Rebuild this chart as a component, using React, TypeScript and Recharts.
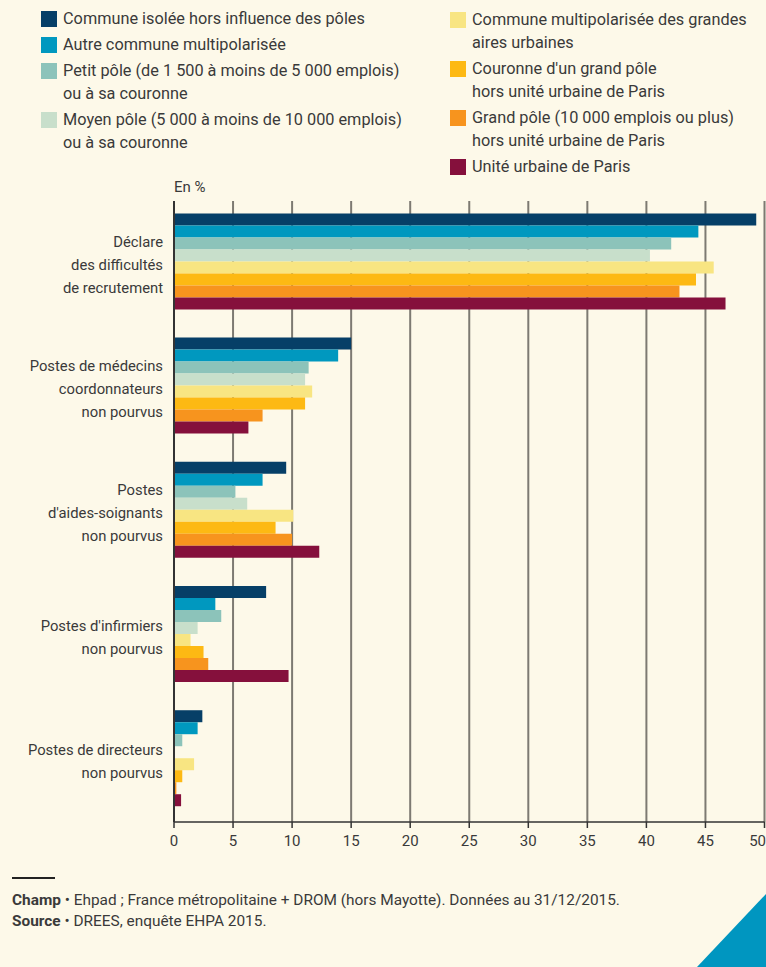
import { BarChart, Bar, XAxis, YAxis, CartesianGrid } from 'recharts'

const categories = [
  'Déclare\ndes difficultés\nde recrutement',
  'Postes de médecins\ncoordonnateurs\nnon pourvus',
  'Postes\nd\'aides-soignants\nnon pourvus',
  'Postes d\'infirmiers\nnon pourvus',
  'Postes de directeurs\nnon pourvus',
]

const communeIsolee = [49.3, 15.0, 9.5, 7.8, 2.4]
const autreMultipol = [44.4, 13.9, 7.5, 3.5, 2.0]
const petitPole = [42.1, 11.4, 5.2, 4.0, 0.7]
const moyenPole = [40.3, 11.1, 6.2, 2.0, 0]
const multipolGrandesAires = [45.7, 11.7, 10.1, 1.4, 1.7]
const couronneGrandPole = [44.2, 11.1, 8.6, 2.5, 0.7]
const grandPole = [42.8, 7.5, 10.0, 2.9, 0.2]
const uuParis = [46.7, 6.3, 12.3, 9.7, 0.6]

const xTicks = [0, 5, 10, 15, 20, 25, 30, 35, 40, 45, 50]

const series = [
  { key: 'communeIsolee', values: communeIsolee, color: '#063f67', label: ['Commune isolée hors influence des pôles'] },
  { key: 'autreMultipol', values: autreMultipol, color: '#0098bf', label: ['Autre commune multipolarisée'] },
  { key: 'petitPole', values: petitPole, color: '#8cc3ba', label: ['Petit pôle (de 1 500 à moins de 5 000 emplois)', 'ou à sa couronne'] },
  { key: 'moyenPole', values: moyenPole, color: '#c8dfcb', label: ['Moyen pôle (5 000 à moins de 10 000 emplois)', 'ou à sa couronne'] },
  { key: 'multipolGrandesAires', values: multipolGrandesAires, color: '#f8e582', label: ['Commune multipolarisée des grandes', 'aires urbaines'] },
  { key: 'couronneGrandPole', values: couronneGrandPole, color: '#fdb913', label: ['Couronne d\'un grand pôle', 'hors unité urbaine de Paris'] },
  { key: 'grandPole', values: grandPole, color: '#f7941e', label: ['Grand pôle (10 000 emplois ou plus)', 'hors unité urbaine de Paris'] },
  { key: 'uuParis', values: uuParis, color: '#85103c', label: ['Unité urbaine de Paris'] },
]

const data = categories.map((name, i) => {
  const row: Record<string, string | number> = { name }
  series.forEach((s) => {
    row[s.key] = s.values[i]
  })
  return row
})

const FONT = 'Roboto, "Liberation Sans", sans-serif'
const TEXT = '#3a3a3a'
const BG = '#fdf9e9'

function CategoryTick({ y, payload }: any) {
  const lines = String(payload.value).split('\n')
  const lh = 23
  const y0 = y - ((lines.length - 1) * lh) / 2 + 6.5
  return (
    <text textAnchor="end" fill={TEXT} fontSize={14.8} fontFamily={FONT}>
      {lines.map((l, i) => (
        <tspan key={i} x={163} y={y0 + i * lh}>
          {l}
        </tspan>
      ))}
    </text>
  )
}

// last label would be cut at the right edge, keep it inside
function ValueTick({ x, y, payload }: any) {
  const last = payload.value === 50
  return (
    <text
      x={last ? 766 : x}
      y={y + 12}
      textAnchor={last ? 'end' : 'middle'}
      fill={TEXT}
      fontSize={15}
      fontFamily={FONT}
    >
      {payload.value}
    </text>
  )
}

function LegendColumn({ items, left, top }: { items: typeof series; left: number; top: number }) {
  return (
    <div style={{ position: 'absolute', left, top }}>
      {items.map((s) => (
        <div key={s.key} style={{ display: 'flex', marginBottom: 3 }}>
          <div style={{ width: 16, height: 16, background: s.color, marginTop: 4, marginRight: 6 }} />
          <div>
            {s.label.map((l, i) => (
              <div key={i} style={{ lineHeight: '23px', height: 23, whiteSpace: 'nowrap' }}>{l}</div>
            ))}
          </div>
        </div>
      ))}
    </div>
  )
}

export default function App() {
  return (
    <div
      style={{
        position: 'absolute',
        left: 0,
        top: 0,
        width: 766,
        height: 967,
        background: BG,
        overflow: 'hidden',
        fontFamily: FONT,
        color: TEXT,
        fontSize: 16.3,
      }}
    >
      <LegendColumn items={series.slice(0, 4)} left={41} top={6.5} />
      <LegendColumn items={series.slice(4)} left={450} top={7.5} />

      <div style={{ position: 'absolute', left: 174, top: 178, fontSize: 15 }}>En %</div>

      <div style={{ position: 'absolute', left: 0, top: 0 }}>
        <BarChart
          width={766}
          height={967}
          data={data}
          layout="vertical"
          margin={{ top: 201, right: 1.5, bottom: 115, left: 0 }}
          barCategoryGap="10%"
          barGap={0}
        >
          <CartesianGrid horizontal={false} stroke="#7d7a72" strokeWidth={2} />
          <XAxis
            type="number"
            domain={[0, 50]}
            ticks={xTicks}
            height={30}
            tick={<ValueTick />}
            tickSize={6}
            tickMargin={6}
            axisLine={{ stroke: '#333', strokeWidth: 1.5 }}
            tickLine={{ stroke: '#333', strokeWidth: 1.5 }}
            interval={0}
          />
          <YAxis
            type="category"
            dataKey="name"
            width={174}
            tick={<CategoryTick />}
            tickLine={false}
            axisLine={{ stroke: '#333', strokeWidth: 2 }}
            interval={0}
          />
          {series.map((s) => (
            <Bar key={s.key} dataKey={s.key} fill={s.color} isAnimationActive={false} />
          ))}
        </BarChart>
      </div>

      <div style={{ position: 'absolute', left: 12, top: 877, width: 43, height: 2, background: '#222' }} />
      <div style={{ position: 'absolute', left: 12, top: 890, fontSize: 15.4, lineHeight: '21px', whiteSpace: 'nowrap' }}>
        <div>
          <b>Champ</b> • Ehpad ; France métropolitaine + DROM (hors Mayotte). Données au 31/12/2015.
        </div>
        <div>
          <b>Source</b> • DREES, enquête EHPA 2015.
        </div>
      </div>

      <svg style={{ position: 'absolute', left: 0, top: 0 }} width={766} height={967}>
        <polygon points="766,894 697,967 766,967" fill="#0096c0" />
      </svg>
    </div>
  )
}
